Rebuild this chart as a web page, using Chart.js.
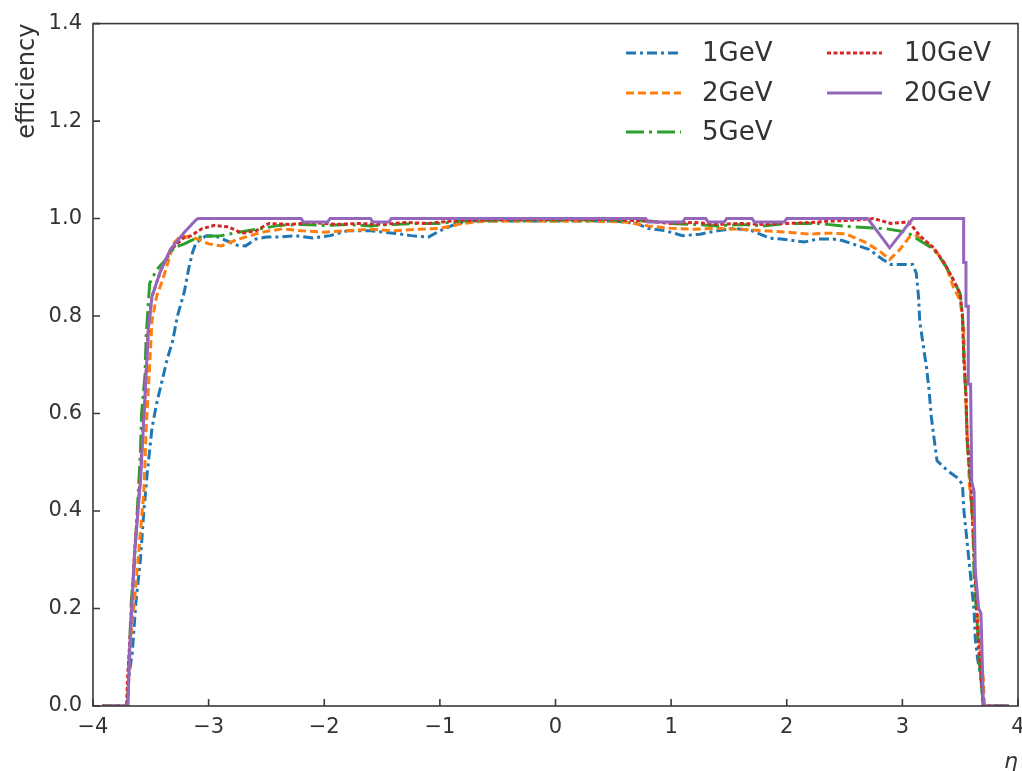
<!DOCTYPE html>
<html>
<head>
<meta charset="utf-8">
<script src="https://cdn.jsdelivr.net/npm/chart.js@4/dist/chart.umd.min.js"></script>
<style>
  html, body { margin: 0; padding: 0; background: #fff; }
  #wrap { width: 1022px; height: 771px; }
</style>
</head>
<body>
<div id="wrap"><canvas id="c" width="1022" height="771"></canvas></div>
<script>
// ---- Data ----
const seriesLabels = ['1GeV', '2GeV', '5GeV', '10GeV', '20GeV'];
const xTicks = [-4, -3, -2, -1, 0, 1, 2, 3, 4];
const yTicks = [0, 0.2, 0.4, 0.6, 0.8, 1.0, 1.2, 1.4];

const eta1GeV = [-3.92,-3.70,-3.69,-3.66,-3.63,-3.59,-3.56,-3.53,-3.49,-3.45,-3.40,-3.36,-3.31,-3.27,-3.21,-3.17,-3.14,-3.11,-3.02,-2.95,-2.85,-2.75,-2.68,-2.59,-2.50,-2.39,-2.25,-2.10,-1.95,-1.80,-1.60,-1.40,-1.25,-1.10,-1.00,-0.85,-0.70,-0.50,-0.30,-0.10,0.10,0.30,0.50,0.70,0.80,0.95,1.10,1.25,1.40,1.55,1.70,1.85,1.95,2.05,2.15,2.27,2.40,2.48,2.57,2.71,2.83,2.90,3.09,3.12,3.14,3.15,3.18,3.21,3.23,3.25,3.28,3.30,3.39,3.47,3.52,3.53,3.56,3.59,3.62,3.63,3.65,3.68,3.70,3.92];
const eff1GeV = [0,0,0.06,0.11,0.21,0.30,0.40,0.48,0.57,0.62,0.67,0.71,0.75,0.80,0.85,0.90,0.93,0.95,0.965,0.965,0.955,0.945,0.944,0.958,0.962,0.962,0.965,0.96,0.965,0.975,0.975,0.97,0.965,0.962,0.975,0.99,0.995,0.995,0.995,0.995,0.995,0.995,0.995,0.99,0.98,0.975,0.965,0.968,0.975,0.98,0.975,0.96,0.958,0.955,0.952,0.958,0.958,0.955,0.948,0.937,0.916,0.906,0.906,0.888,0.839,0.79,0.741,0.692,0.65,0.594,0.538,0.503,0.483,0.469,0.455,0.406,0.336,0.266,0.196,0.14,0.098,0.056,0,0];

const eta2GeV = [-3.92,-3.70,-3.69,-3.67,-3.64,-3.61,-3.56,-3.54,-3.51,-3.49,-3.45,-3.39,-3.30,-3.24,-3.09,-3.00,-2.89,-2.74,-2.54,-2.36,-2.20,-2.00,-1.80,-1.60,-1.40,-1.20,-1.00,-0.80,-0.60,-0.30,0.00,0.30,0.60,0.80,1.00,1.20,1.40,1.60,1.80,2.00,2.20,2.35,2.51,2.68,2.80,2.89,2.98,3.06,3.12,3.21,3.30,3.39,3.44,3.50,3.53,3.54,3.55,3.58,3.61,3.62,3.65,3.68,3.70,3.71,3.92];
const eff2GeV = [0,0,0.06,0.15,0.22,0.30,0.44,0.57,0.70,0.79,0.84,0.88,0.95,0.965,0.958,0.948,0.944,0.958,0.972,0.979,0.975,0.972,0.975,0.978,0.975,0.978,0.98,0.99,0.995,0.995,0.995,0.995,0.993,0.985,0.98,0.978,0.98,0.978,0.975,0.972,0.968,0.97,0.969,0.951,0.934,0.916,0.937,0.962,0.965,0.951,0.93,0.895,0.86,0.832,0.776,0.685,0.615,0.455,0.371,0.30,0.196,0.09,0.056,0,0];

const eta5GeV = [-3.92,-3.70,-3.69,-3.67,-3.64,-3.59,-3.58,-3.55,-3.54,-3.51,-3.45,-3.37,-3.30,-3.21,-3.09,-2.89,-2.74,-2.56,-2.39,-2.20,-2.00,-1.80,-1.60,-1.40,-1.20,-1.00,-0.80,-0.50,0.00,0.50,0.80,1.00,1.20,1.40,1.60,1.80,2.00,2.27,2.57,2.86,3.04,3.15,3.27,3.36,3.44,3.50,3.52,3.53,3.55,3.56,3.59,3.61,3.62,3.65,3.66,3.68,3.70,3.92];
const eff5GeV = [0,0,0.08,0.21,0.30,0.52,0.60,0.68,0.76,0.867,0.895,0.916,0.94,0.948,0.962,0.965,0.972,0.979,0.986,0.988,0.986,0.988,0.985,0.988,0.99,0.99,0.995,0.997,0.997,0.997,0.995,0.99,0.988,0.985,0.988,0.985,0.99,0.99,0.983,0.979,0.972,0.955,0.937,0.909,0.874,0.846,0.804,0.72,0.636,0.545,0.455,0.371,0.266,0.16,0.105,0.056,0,0];

const eta10GeV = [-3.92,-3.71,-3.70,-3.68,-3.64,-3.59,-3.55,-3.52,-3.49,-3.42,-3.33,-3.22,-3.15,-3.06,-2.95,-2.83,-2.71,-2.59,-2.48,-2.30,-2.10,-1.90,-1.70,-1.50,-1.30,-1.10,-0.90,-0.50,0.00,0.50,0.80,1.00,1.20,1.40,1.60,1.80,2.00,2.20,2.40,2.60,2.75,2.90,3.05,3.10,3.15,3.27,3.36,3.44,3.50,3.52,3.53,3.55,3.56,3.59,3.61,3.63,3.65,3.68,3.70,3.92];
const eff10GeV = [0,0,0.06,0.14,0.32,0.47,0.64,0.78,0.84,0.89,0.935,0.96,0.965,0.979,0.986,0.983,0.97,0.975,0.99,0.988,0.992,0.988,0.99,0.988,0.992,0.99,0.995,0.998,0.998,0.998,0.995,0.99,0.992,0.988,0.99,0.988,0.99,0.992,0.995,0.997,1.0,0.99,0.993,0.98,0.965,0.94,0.91,0.875,0.845,0.80,0.72,0.64,0.55,0.46,0.37,0.27,0.16,0.06,0,0];

const eta20GeV = [-3.92,-3.70,-3.68,-3.64,-3.59,-3.55,-3.52,-3.49,-3.42,-3.33,-3.21,-3.11,-3.09,-2.20,-2.18,-1.97,-1.95,-1.60,-1.58,-1.44,-1.42,0.78,0.80,1.10,1.12,1.30,1.32,1.46,1.48,1.70,1.72,1.98,2.00,2.70,2.89,3.09,3.53,3.53,3.55,3.55,3.57,3.57,3.59,3.60,3.62,3.63,3.66,3.68,3.70,3.71,3.92];
const eff20GeV = [0,0,0.13,0.315,0.46,0.636,0.776,0.84,0.89,0.937,0.972,0.997,1.0,1.0,0.993,0.993,1.0,1.0,0.993,0.993,1.0,1.0,0.993,0.993,1.0,1.0,0.993,0.993,1.0,1.0,0.993,0.993,1.0,1.0,0.94,1.0,1.0,0.91,0.91,0.82,0.82,0.66,0.66,0.46,0.44,0.28,0.20,0.19,0.01,0,0];

// ---- Styling ----
const colors = ['#1f77b4', '#ff7f0e', '#2ca02c', '#d62728', '#9467bd'];
const dashes = [[10, 4, 3, 4], [8, 4], [18, 5, 3, 5], [4, 2.5], []];
const etas = [eta1GeV, eta2GeV, eta5GeV, eta10GeV, eta20GeV];
const effs = [eff1GeV, eff2GeV, eff5GeV, eff10GeV, eff20GeV];

const FONT = "'DejaVu Sans', sans-serif";
const TXT = '#333333';

const datasets = seriesLabels.map((lab, i) => ({
  label: lab,
  data: etas[i].map((x, j) => ({ x: x, y: effs[i][j] })),
  borderColor: colors[i],
  backgroundColor: colors[i],
  borderDash: dashes[i],
  borderWidth: 3,
  pointRadius: 0,
  tension: 0,
  fill: false,
  order: seriesLabels.length - i
}));

const framePlugin = {
  id: 'frame',
  afterDatasetsDraw(chart) {
    const { ctx, chartArea: a, scales } = chart;
    ctx.save();
    ctx.strokeStyle = '#3a3a3a';
    ctx.lineWidth = 1.6;
    ctx.setLineDash([]);
    ctx.strokeRect(a.left, a.top, a.right - a.left, a.bottom - a.top);
    const tl = 7;
    ctx.beginPath();
    xTicks.forEach(v => {
      const px = scales.x.getPixelForValue(v);
      ctx.moveTo(px, a.bottom); ctx.lineTo(px, a.bottom - tl);
    });
    yTicks.forEach(v => {
      const py = scales.y.getPixelForValue(v);
      ctx.moveTo(a.left, py); ctx.lineTo(a.left + tl, py);
    });
    ctx.stroke();
    ctx.restore();
  }
};

const legendPlugin = {
  id: 'customLegend',
  afterDraw(chart) {
    const { ctx } = chart;
    const pos = [
      { lx: 626, tx: 702, y: 53 },
      { lx: 626, tx: 702, y: 93 },
      { lx: 626, tx: 702, y: 132 },
      { lx: 827, tx: 904, y: 53 },
      { lx: 827, tx: 904, y: 93 }
    ];
    ctx.save();
    chart.data.datasets.forEach((ds, i) => {
      const p = pos[i];
      ctx.strokeStyle = ds.borderColor;
      ctx.lineWidth = ds.borderWidth;
      ctx.setLineDash(ds.borderDash);
      ctx.beginPath();
      ctx.moveTo(p.lx, p.y);
      ctx.lineTo(p.lx + 55, p.y);
      ctx.stroke();
      ctx.setLineDash([]);
      ctx.fillStyle = TXT;
      ctx.font = "26px " + FONT;
      ctx.textAlign = 'left';
      ctx.textBaseline = 'middle';
      ctx.fillText(ds.label, p.tx, p.y + 1);
    });
    ctx.restore();
  }
};

new Chart(document.getElementById('c'), {
  type: 'line',
  data: { datasets },
  options: {
    responsive: false,
    animation: false,
    devicePixelRatio: 1,
    layout: { padding: { top: 18, right: 4, left: 0, bottom: 0 } },
    plugins: { legend: { display: false }, tooltip: { enabled: false } },
    scales: {
      x: {
        type: 'linear',
        min: -4, max: 4,
        afterBuildTicks(s) { s.ticks = xTicks.map(v => ({ value: v })); },
        afterFit(s) { s.height = 65; s.paddingLeft = 0; s.paddingRight = 0; },
        ticks: {
          font: { family: FONT, size: 21 },
          color: TXT,
          padding: 9,
          maxRotation: 0,
          callback: v => String(v).replace('-', '\u2212')
        },
        grid: { display: false, drawTicks: false },
        border: { display: false },
        title: {
          display: true, text: 'η', align: 'end', color: TXT,
          font: { family: FONT, size: 22, style: 'italic', lineHeight: 1 },
          padding: { top: 0, bottom: -2 }
        }
      },
      y: {
        type: 'linear',
        min: 0, max: 1.4,
        afterBuildTicks(s) { s.ticks = yTicks.map(v => ({ value: v })); },
        afterFit(s) { s.width = 93; },
        ticks: {
          font: { family: FONT, size: 21 },
          color: TXT,
          padding: 11,
          callback: v => Number(v).toFixed(1)
        },
        grid: { display: false, drawTicks: false },
        border: { display: false },
        title: {
          display: true, text: 'efficiency', align: 'end', color: TXT,
          font: { family: FONT, size: 24, lineHeight: 1 },
          padding: { top: 16, bottom: 0 }
        }
      }
    }
  },
  plugins: [framePlugin, legendPlugin]
});
</script>
</body>
</html>
